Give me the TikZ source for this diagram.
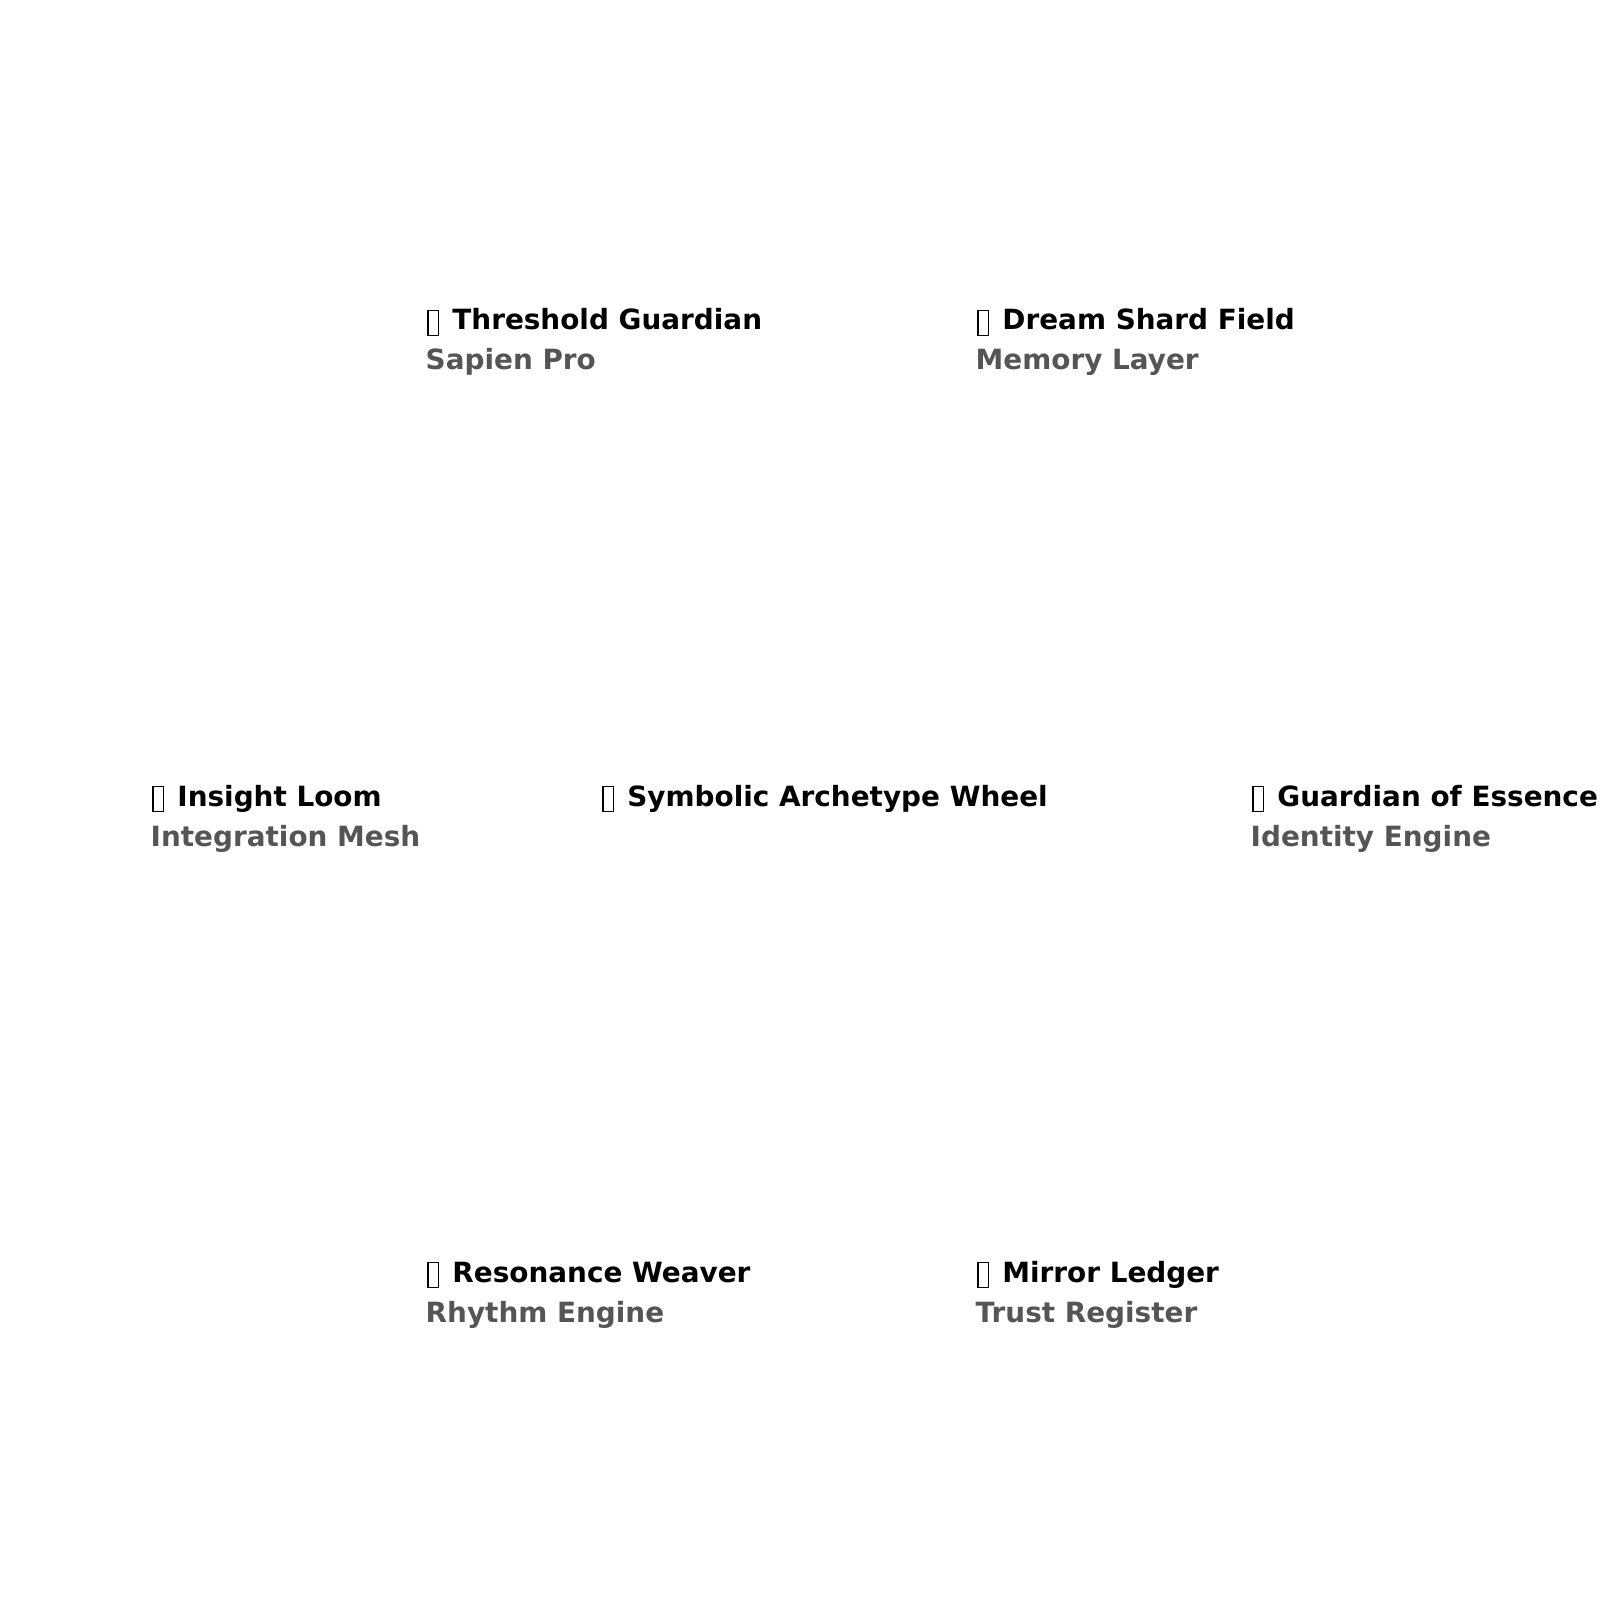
\documentclass[tikz,border=0pt]{standalone}
\usepackage{fontspec}
\usepackage{xcolor}
\usepackage{tikz}
\usetikzlibrary{positioning}
\setmainfont{DejaVu Sans}
\definecolor{SubColor}{RGB}{85,85,85}
\newcommand{\tofubox}{\hspace{0.06em}{\setlength{\fboxsep}{0pt}\setlength{\fboxrule}{0.05em}\fbox{\rule[-0.17em]{0pt}{0.85em}\rule{0.33em}{0pt}}}\hspace{0.12em}}
\tikzset{
  wheeltitle/.style={anchor=base west, inner sep=0pt, font=\fontsize{7.93pt}{9pt}\selectfont\bfseries, text=black},
  wheelsub/.style={anchor=base west, inner sep=0pt, font=\fontsize{7.93pt}{9pt}\selectfont\bfseries, text=SubColor},
}

\begin{document}
\begin{tikzpicture}
      \useasboundingbox (0,0) rectangle (16,-16);
      \clip (0,0) rectangle (16,-16);

      \node[wheeltitle] (center) at (6.0,-8.06) {\tofubox\ Symbolic Archetype Wheel};

      \node[wheeltitle] (threshold) at (4.25,-3.30) {\tofubox\ Threshold Guardian};
      \node[wheeltitle] (dream) at (9.75,-3.30) {\tofubox\ Dream Shard Field};
      \node[wheeltitle] (loom) at (1.5,-8.06) {\tofubox\ Insight Loom};
      \node[wheeltitle] (essence) at (12.5,-8.06) {\tofubox\ Guardian of Essence};
      \node[wheeltitle] (weaver) at (4.25,-12.82) {\tofubox\ Resonance Weaver};
      \node[wheeltitle] (ledger) at (9.75,-12.82) {\tofubox\ Mirror Ledger};

      \node[wheelsub] (thresholdsub) at ([yshift=-0.4cm]threshold.base west) {Sapien Pro};
      \node[wheelsub] (dreamsub) at ([yshift=-0.4cm]dream.base west) {Memory Layer};
      \node[wheelsub] (loomsub) at ([yshift=-0.4cm]loom.base west) {Integration Mesh};
      \node[wheelsub] (essencesub) at ([yshift=-0.4cm]essence.base west) {Identity Engine};
      \node[wheelsub] (weaversub) at ([yshift=-0.4cm]weaver.base west) {Rhythm Engine};
      \node[wheelsub] (ledgersub) at ([yshift=-0.4cm]ledger.base west) {Trust Register};
    \end{tikzpicture}
\end{document}
